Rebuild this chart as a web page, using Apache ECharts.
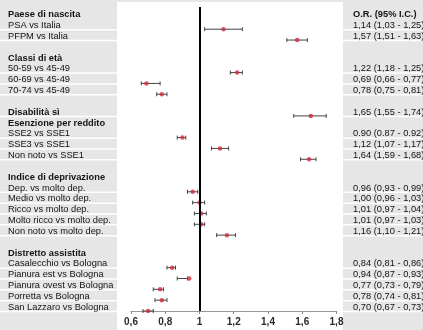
<!DOCTYPE html>
<html>
<head>
<meta charset="utf-8">
<script src="https://cdn.jsdelivr.net/npm/echarts@6/dist/echarts.min.js"></script>
<style>
  html, body { margin: 0; padding: 0; background: #e6e6e6; }
  #chart { width: 423px; height: 330px; }
</style>
</head>
<body>
<div id="chart"></div>
<script>
// Row labels, top to bottom (group headers, comparisons and blank spacer rows)
const rowLabels = [
  'Paese di nascita', 'PSA vs Italia', 'PFPM vs Italia', '',
  'Classi di età', '50-59 vs 45-49', '60-69 vs 45-49', '70-74 vs 45-49', '',
  'Disabilità sì', 'Esenzione per reddito', 'SSE2 vs SSE1', 'SSE3 vs SSE1', 'Non noto vs SSE1', '',
  'Indice di deprivazione', 'Dep. vs molto dep.', 'Medio vs molto dep.', 'Ricco vs molto dep.',
  'Molto ricco vs molto dep.', 'Non noto vs molto dep.', '',
  'Distretto assistita', 'Casalecchio vs Bologna', 'Pianura est vs Bologna', 'Pianura ovest vs Bologna',
  'Porretta vs Bologna', 'San Lazzaro vs Bologna'
];
// h = group header, i = comparison, hv = bold row that also carries an estimate, b = spacer
const rowKinds = [
  'h', 'i', 'i', 'b',
  'h', 'i', 'i', 'i', 'b',
  'hv', 'h', 'i', 'i', 'i', 'b',
  'h', 'i', 'i', 'i', 'i', 'i', 'b',
  'h', 'i', 'i', 'i', 'i', 'i'
];
// Odds ratios and 95% confidence limits
const orValues = [
  null, 1.14, 1.57, null,
  null, 1.22, 0.69, 0.78, null,
  1.65, null, 0.90, 1.12, 1.64, null,
  null, 0.96, 1.00, 1.01, 1.01, 1.16, null,
  null, 0.84, 0.94, 0.77, 0.78, 0.70
];
const ciLow = [
  null, 1.03, 1.51, null,
  null, 1.18, 0.66, 0.75, null,
  1.55, null, 0.87, 1.07, 1.59, null,
  null, 0.93, 0.96, 0.97, 0.97, 1.10, null,
  null, 0.81, 0.87, 0.73, 0.74, 0.67
];
const ciHigh = [
  null, 1.25, 1.63, null,
  null, 1.25, 0.77, 0.81, null,
  1.74, null, 0.92, 1.17, 1.68, null,
  null, 0.99, 1.03, 1.04, 1.03, 1.21, null,
  null, 0.86, 0.93, 0.79, 0.81, 0.73
];
// Right-hand column text
const orTexts = [
  'O.R. (95% I.C.)', '1,14 (1,03 - 1,25)', '1,57 (1,51 - 1,63)', '',
  '', '1,22 (1,18 - 1,25)', '0,69 (0,66 - 0,77)', '0,78 (0,75 - 0,81)', '',
  '1,65 (1,55 - 1,74)', '', '0.90 (0.87 - 0.92)', '1,12 (1,07 - 1,17)', '1,64 (1,59 - 1,68)', '',
  '', '0,96 (0,93 - 0,99)', '1,00 (0,96 - 1,03)', '1,01 (0,97 - 1,04)', '1,01 (0,97 - 1,03)', '1,16 (1,10 - 1,21)', '',
  '', '0,84 (0,81 - 0,86)', '0,94 (0,87 - 0,93)', '0,77 (0,73 - 0,79)', '0,78 (0,74 - 0,81)', '0,70 (0,67 - 0,73)'
];
// x-axis ticks
const xTicks = [0.6, 0.8, 1, 1.2, 1.4, 1.6, 1.8];

const FONT = 'Liberation Sans';
const TEXT_SIZE = 9.3;

const rowData = rowLabels.map((_, i) => [0.6, i]);
const barData = [];
const pointData = [];
orValues.forEach((v, i) => {
  if (v !== null) {
    barData.push([i, ciLow[i], ciHigh[i]]);
    pointData.push([v, i]);
  }
});

function textEl(x, y, text, bold) {
  return {
    type: 'text', x: x, y: y,
    style: {
      text: text, fill: '#141414',
      fontFamily: FONT, fontSize: TEXT_SIZE, fontWeight: bold ? 'bold' : 'normal',
      align: 'left', verticalAlign: 'middle',
      textAlign: 'left', textVerticalAlign: 'middle'
    }
  };
}

const chart = echarts.init(document.getElementById('chart'), null, { renderer: 'canvas' });

chart.setOption({
  backgroundColor: '#e6e6e6',
  animation: false,
  textStyle: { fontFamily: FONT },
  graphic: [
    { type: 'rect', z: -10, silent: true,
      shape: { x: 117, y: 2, width: 226, height: 330 },
      style: { fill: '#ffffff' } }
  ],
  grid: { left: 131, right: 86.5, top: 7, bottom: 19, containLabel: false },
  xAxis: {
    type: 'value',
    position: 'bottom',
    min: 0.6, max: 1.8, interval: 0.2,
    axisLine: { show: true, onZero: false, lineStyle: { color: '#9a9a9a', width: 1 } },
    axisTick: { show: true, length: 3, lineStyle: { color: '#8a8a8a' } },
    splitLine: { show: false },
    axisLabel: {
      margin: 6,
      color: '#2a2a2a',
      fontFamily: FONT,
      fontSize: 10,
      fontWeight: 'bold',
      formatter: v => {
        const t = xTicks.find(x => Math.abs(x - v) < 1e-6);
        if (t === undefined) return '';
        return String(Math.round(t * 10) / 10).replace('.', ',');
      }
    }
  },
  yAxis: {
    type: 'value',
    inverse: true,
    min: -1.05, max: 27,
    show: false
  },
  series: [
    {
      // side panels: row separators, left labels, right estimates
      type: 'custom',
      silent: true,
      clip: false,
      z: 1,
      data: rowData,
      renderItem: (params, api) => {
        const i = params.dataIndex;
        const y = api.coord([0.6, i])[1];
        const kind = rowKinds[i];
        const children = [];
        if (kind === 'i' || kind === 'hv') {
          children.push({ type: 'rect', shape: { x: 0, y: y - 0.2, width: 117, height: 1.5 }, style: { fill: '#ffffff' } });
          children.push({ type: 'rect', shape: { x: 343, y: y - 0.2, width: 80, height: 1.5 }, style: { fill: '#ffffff' } });
        }
        const bold = kind === 'h' || kind === 'hv';
        if (rowLabels[i]) children.push(textEl(8, y - 3.8, rowLabels[i], bold));
        if (orTexts[i]) children.push(textEl(353, y - 3.8, orTexts[i], i === 0));
        return { type: 'group', children };
      }
    },
    {
      // confidence interval whiskers
      type: 'custom',
      silent: true,
      z: 3,
      encode: { x: [1, 2], y: 0 },
      data: barData,
      renderItem: (params, api) => {
        const row = api.value(0);
        const a = api.coord([api.value(1), row]);
        const b = api.coord([api.value(2), row]);
        const style = { stroke: '#444444', lineWidth: 1 };
        const h = 2;
        return {
          type: 'group',
          children: [
            { type: 'line', shape: { x1: a[0], y1: a[1], x2: b[0], y2: b[1] }, style },
            { type: 'line', shape: { x1: a[0], y1: a[1] - h, x2: a[0], y2: a[1] + h }, style },
            { type: 'line', shape: { x1: b[0], y1: b[1] - h, x2: b[0], y2: b[1] + h }, style }
          ]
        };
      }
    },
    {
      // point estimates
      type: 'scatter',
      silent: true,
      z: 4,
      symbol: 'circle',
      symbolSize: 4.5,
      itemStyle: { color: '#d02a3e' },
      data: pointData,
      markLine: {
        silent: true,
        symbol: 'none',
        label: { show: false },
        lineStyle: { color: '#000000', width: 2, type: 'solid' },
        data: [{ xAxis: 1 }]
      }
    }
  ]
});
</script>
</body>
</html>
